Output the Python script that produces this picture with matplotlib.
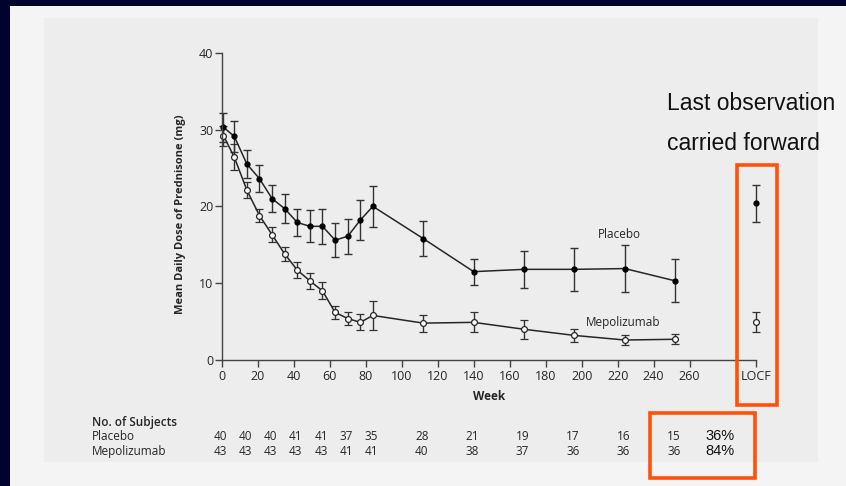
import matplotlib
matplotlib.use("Agg")
import matplotlib.pyplot as plt
from matplotlib.patches import Rectangle

# Data
weeks = [1, 7, 14, 21, 28, 35, 42, 49, 56, 63, 70, 77, 84, 112, 140, 168, 196, 224, 252]
placebo = [30.3, 29.1, 25.5, 23.6, 21.0, 19.7, 17.9, 17.4, 17.4, 15.6, 16.1, 18.2, 20.0,
           15.8, 11.5, 11.8, 11.8, 11.9, 10.3]
placebo_err = [1.9, 2.0, 1.8, 1.75, 1.75, 1.9, 1.8, 2.1, 2.3, 2.2, 2.3, 2.6, 2.7,
               2.25, 1.7, 2.4, 2.8, 3.1, 2.8]
mepo = [29.2, 26.4, 22.1, 18.8, 16.3, 13.8, 11.7, 10.3, 9.0, 6.2, 5.4, 4.9, 5.8,
        4.8, 4.9, 4.0, 3.2, 2.6, 2.7]
mepo_err = [1.3, 1.7, 1.05, 0.9, 1.0, 0.95, 1.05, 1.05, 1.1, 0.85, 0.9, 1.05, 1.85,
            1.1, 1.3, 1.25, 0.9, 0.7, 0.65]

locf_x = 296.7
locf_placebo, locf_placebo_err = 20.4, 2.4
locf_mepo, locf_mepo_err = 4.9, 1.3

xticks = [0, 20, 40, 60, 80, 100, 120, 140, 160, 180, 200, 220, 240, 260]
yticks = [0, 10, 20, 30, 40]

subj_weeks = [0, 14, 28, 42, 56, 70, 84, 112, 140, 168, 196, 224, 252]
subj_placebo = ["40", "40", "40", "41", "41", "37", "35", "28", "21", "19", "17", "16", "15"]
subj_mepo = ["43", "43", "43", "43", "43", "41", "41", "40", "38", "37", "36", "36", "36"]
pct_placebo = "36%"
pct_mepo = "84%"

W, H = 846, 486
NAVY = "#02022f"
ORANGE = "#ff5109"
INK = "#262626"
FONT = ["Open Sans", "DejaVu Sans"]


def px(x, y):
    return x / W, 1 - y / H


fig = plt.figure(figsize=(W / 100, H / 100), dpi=100, facecolor=NAVY)

# panels behind the chart
fig.patches.append(Rectangle(px(10, 486), 836 / W, 480 / H, transform=fig.transFigure,
                             facecolor="#f4f4f4", edgecolor="none", zorder=-2))
fig.patches.append(Rectangle(px(44, 462), 774 / W, 444 / H, transform=fig.transFigure,
                             facecolor="#ededed", edgecolor="none", zorder=-1))

l, b = px(221.7, 360)
r, t = px(755.7, 52.7)
ax = fig.add_axes([l, b, r - l, t - b])
ax.set_zorder(1)
ax.patch.set_alpha(0)

eb_kw = dict(capsize=3, elinewidth=1, capthick=1, ecolor="#333333", clip_on=False)
ax.errorbar(weeks, placebo, yerr=placebo_err, fmt="-o", color=INK, lw=1.1,
            ms=3.5, mfc="black", mec="black", **eb_kw)
ax.errorbar(weeks, mepo, yerr=mepo_err, fmt="-o", color=INK, lw=1.1,
            ms=4.2, mfc="white", mec=INK, mew=0.9, **eb_kw)
ax.errorbar([locf_x], [locf_placebo], yerr=[locf_placebo_err], fmt="o", color=INK,
            ms=3.5, mfc="black", mec="black", **eb_kw)
ax.errorbar([locf_x], [locf_mepo], yerr=[locf_mepo_err], fmt="o", color=INK,
            ms=4.2, mfc="white", mec=INK, mew=0.9, **eb_kw)

ax.set_xlim(0, locf_x)
ax.set_ylim(0, 40)
ax.set_xticks(xticks + [locf_x])
ax.set_xticklabels([str(v) for v in xticks] + ["LOCF"])
ax.set_yticks(yticks)
for side in ["top", "right"]:
    ax.spines[side].set_visible(False)
for side in ["left", "bottom"]:
    ax.spines[side].set_color("#444444")
    ax.spines[side].set_linewidth(1)
ax.tick_params(direction="out", length=5, width=1, color="#444444",
               labelsize=9, labelcolor=INK, pad=2)
ax.tick_params(axis="y", pad=1)
for lab in ax.get_xticklabels() + ax.get_yticklabels():
    lab.set_family(FONT)

ax.text(221, 16.4, "Placebo", fontsize=8.5, color=INK, ha="center", va="center", family=FONT)
ax.text(223, 4.9, "Mepolizumab", fontsize=8.5, color=INK, ha="center", va="center", family=FONT)

fig.text(*px(180, 214), "Mean Daily Dose of Prednisone (mg)", rotation=90, fontsize=8,
         fontweight="bold", color=INK, ha="center", va="center", family=FONT)
fig.text(*px(489, 396), "Week", fontsize=8.5, fontweight="bold", color=INK,
         ha="center", va="center", family=FONT)

# subjects table
fig.text(*px(92, 422), "No. of Subjects", fontsize=8.5, fontweight="semibold", color=INK,
         ha="left", va="center", family=FONT)
fig.text(*px(92, 437), "Placebo", fontsize=8.5, color=INK, ha="left", va="center", family=FONT)
fig.text(*px(92, 451), "Mepolizumab", fontsize=8.5, color=INK, ha="left", va="center", family=FONT)
for wk, a, m in zip(subj_weeks, subj_placebo, subj_mepo):
    xf = (221.7 + (wk - 0.8) * 1.8) / W
    fig.text(xf, 1 - 437 / H, a, fontsize=8.5, color=INK, ha="center", va="center", family=FONT)
    fig.text(xf, 1 - 451 / H, m, fontsize=8.5, color=INK, ha="center", va="center", family=FONT)
fig.text(*px(720, 436), pct_placebo, fontsize=10.5, color="#111111", ha="center", va="center",
         family="Liberation Sans")
fig.text(*px(720, 451), pct_mepo, fontsize=10.5, color="#111111", ha="center", va="center",
         family="Liberation Sans")

# annotation
fig.text(*px(667, 103), "Last observation", fontsize=16.5, color="#111111", ha="left",
         va="center", family="Liberation Sans")
fig.text(*px(667, 143), "carried forward", fontsize=16.5, color="#111111", ha="left",
         va="center", family="Liberation Sans")

fig.patches.append(Rectangle(px(737, 405), 40 / W, 240 / H, transform=fig.transFigure,
                             facecolor="none", edgecolor=ORANGE, lw=2.6, zorder=5))
fig.patches.append(Rectangle(px(650, 478), 105 / W, 65 / H, transform=fig.transFigure,
                             facecolor="none", edgecolor=ORANGE, lw=2.6, zorder=5))

fig.savefig("out.png", dpi=100, facecolor=NAVY)
